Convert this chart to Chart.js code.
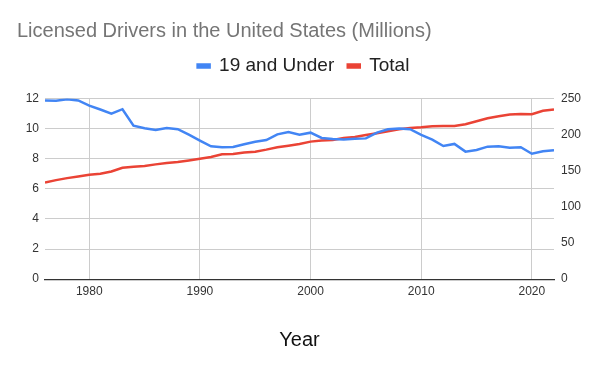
<!DOCTYPE html>
<html>
<head>
<meta charset="utf-8">
<script src="https://cdn.jsdelivr.net/npm/chart.js@4/dist/chart.umd.min.js"></script>
<style>
  html, body { margin: 0; padding: 0; background: #fff; }
  #wrap { width: 600px; height: 371px; }
</style>
</head>
<body>
<div id="wrap"><canvas id="chart"></canvas></div>
<script>
// values
const years = [1976, 1977, 1978, 1979, 1980, 1981, 1982, 1983, 1984, 1985, 1986, 1987, 1988, 1989,
  1990, 1991, 1992, 1993, 1994, 1995, 1996, 1997, 1998, 1999, 2000, 2001, 2002, 2003, 2004, 2005,
  2006, 2007, 2008, 2009, 2010, 2011, 2012, 2013, 2014, 2015, 2016, 2017, 2018, 2019, 2020, 2021, 2022];
const under19 = [11.87, 11.85, 11.95, 11.87, 11.53, 11.27, 11.0, 11.29, 10.2, 10.02, 9.91, 10.04, 9.96, 9.6,
  9.2, 8.82, 8.76, 8.78, 8.96, 9.13, 9.24, 9.62, 9.78, 9.6, 9.73, 9.38, 9.31, 9.27, 9.33, 9.35,
  9.73, 9.96, 10.0, 9.96, 9.58, 9.27, 8.84, 8.98, 8.47, 8.58, 8.8, 8.82, 8.73, 8.76, 8.33, 8.49, 8.56];
const total = [133.8, 137, 139.8, 142.1, 144.4, 145.8, 149, 154.2, 155.6, 156.5, 158.8, 160.6, 162, 164.3,
  166.7, 169, 172.7, 173.1, 175.4, 176.4, 179.2, 182.4, 184.7, 187, 190.3, 191.7, 192.6, 195.4, 196.8, 199.5,
  201.9, 204.6, 207.4, 209.3, 210.2, 211.6, 212, 212, 214.4, 218.5, 222.7, 225.5, 227.8, 228.7, 228.2, 232.9, 234.7];
const yearTicks = [1980, 1990, 2000, 2010, 2020];

const FONT = '"Liberation Sans", Arial, sans-serif';

// leave some room under the legend, like the sheets chart does
const legendGap = {
  id: 'legendGap',
  beforeInit(chart) {
    const fit = chart.legend.fit;
    chart.legend.fit = function () {
      fit.call(this);
      this.height += 13;
    };
  }
};

const ctx = document.getElementById('chart').getContext('2d');
new Chart(ctx, {
  type: 'line',
  data: {
    datasets: [
      {
        label: '19 and Under',
        data: years.map((y, i) => ({ x: y, y: under19[i] })),
        borderColor: '#4285F4',
        backgroundColor: '#4285F4',
        borderWidth: 2.5,
        pointRadius: 0,
        yAxisID: 'y'
      },
      {
        label: 'Total',
        data: years.map((y, i) => ({ x: y, y: total[i] })),
        borderColor: '#EA4335',
        backgroundColor: '#EA4335',
        borderWidth: 2.5,
        pointRadius: 0,
        yAxisID: 'y1'
      }
    ]
  },
  options: {
    responsive: true,
    maintainAspectRatio: false,
    animation: false,
    layout: { padding: { left: 17, right: 10, top: 0, bottom: 10 } },
    plugins: {
      title: {
        display: true,
        text: 'Licensed Drivers in the United States (Millions)',
        align: 'start',
        color: '#757575',
        font: { family: FONT, size: 20, weight: 'normal' },
        padding: { top: 19, bottom: 0 }
      },
      legend: {
        position: 'top',
        labels: {
          color: '#222',
          font: { family: FONT, size: 19 },
          boxWidth: 12,
          boxHeight: 3,
          padding: 13.5
        }
      },
      tooltip: { enabled: false }
    },
    scales: {
      x: {
        type: 'linear',
        min: 1976,
        max: 2022,
        afterBuildTicks: (axis) => { axis.ticks = yearTicks.map(v => ({ value: v })); },
        ticks: {
          color: '#333',
          font: { family: FONT, size: 12 },
          padding: 5,
          maxRotation: 0,
          callback: (v) => String(v)
        },
        grid: { color: '#cccccc', drawTicks: false },
        border: { display: true, color: '#333', width: 1.2 },
        title: {
          display: true,
          text: 'Year',
          color: '#111',
          font: { family: FONT, size: 20 },
          padding: { top: 24.5, bottom: 9 }
        }
      },
      y: {
        position: 'left',
        min: 0,
        max: 12,
        ticks: {
          stepSize: 2,
          color: '#333',
          font: { family: FONT, size: 12 },
          padding: 6
        },
        grid: { color: '#cccccc', drawTicks: false },
        border: { display: false },
        afterFit: (axis) => { axis.width = 28; }
      },
      y1: {
        position: 'right',
        min: 0,
        max: 250,
        ticks: {
          stepSize: 50,
          color: '#333',
          font: { family: FONT, size: 12 },
          padding: 7
        },
        grid: { drawOnChartArea: false, drawTicks: false },
        border: { display: false },
        afterFit: (axis) => { axis.width = 36; }
      }
    }
  },
  plugins: [legendGap]
});
</script>
</body>
</html>
